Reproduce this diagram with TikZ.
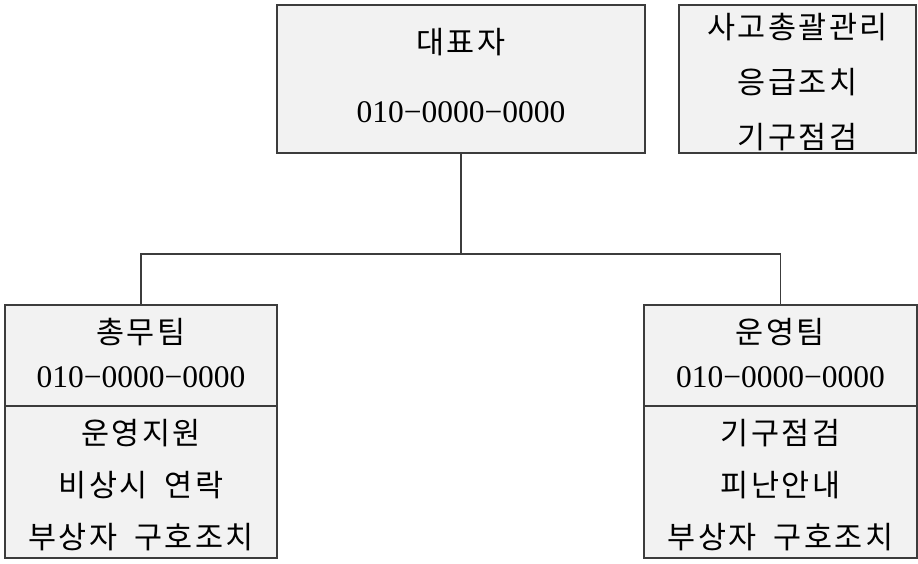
\documentclass[tikz,border=0pt]{standalone}
\usepackage{fontspec}
\setmainfont{Liberation Serif}
\newfontfamily\kr[LetterSpace=8]{Noto Sans CJK KR}
\definecolor{boxfill}{HTML}{F2F2F2}
\definecolor{boxline}{HTML}{3C3C3C}
\newcommand{\wsp}{\kern8pt\ }
\begin{document}
\begin{tikzpicture}[x=1pt,y=-1pt,
  box/.style={draw=boxline, fill=boxfill, line width=1.2pt, rectangle, inner sep=0pt},
  kt/.style={inner sep=0pt, font=\kr\fontsize{30.5}{33}\selectfont},
  nt/.style={inner sep=0pt, font=\fontsize{31.5}{34}\selectfont},
  conn/.style={draw=boxline, line width=1.2pt}]
\useasboundingbox (0,0) rectangle (918,563);
% boxes
\node[box, minimum width=368pt, minimum height=148pt] (top) at (461,79) {};
\node[box, minimum width=237pt, minimum height=148pt] (info) at (797.5,79) {};
\node[box, minimum width=272pt, minimum height=253pt] (lbox) at (141,431.5) {};
\node[box, minimum width=273pt, minimum height=253pt] (rbox) at (780.5,431.5) {};
% dividers
\draw[conn] (5,406) -- (277,406);
\draw[conn] (644,406) -- (917,406);
% connectors
\coordinate (j) at (461,254);
\draw[conn] (top.south) -- (j);
\draw[conn] (lbox.north) |- (j) -| (rbox.north);
% top box text
\node[kt] (t1) at (461,42) {대표자};
\node[nt] (t2) at (461,112) {010−0000−0000};
% info box text
\node[kt] (i1) at (797.5,27) {사고총괄관리};
\node[kt] (i2) at (797.5,82) {응급조치};
\node[kt] (i3) at (797.5,137) {기구점검};
% left box text
\node[kt] (l1) at (141,332) {총무팀};
\node[nt] (l2) at (141,377) {010−0000−0000};
\node[kt] (l3) at (141,433) {운영지원};
\node[kt] (l4) at (141,485) {비상시\wsp 연락};
\node[kt] (l5) at (141,537) {부상자\wsp 구호조치};
% right box text
\node[kt] (r1) at (780.5,332) {운영팀};
\node[nt] (r2) at (780.5,377) {010−0000−0000};
\node[kt] (r3) at (780.5,433) {기구점검};
\node[kt] (r4) at (780.5,485) {피난안내};
\node[kt] (r5) at (780.5,537) {부상자\wsp 구호조치};
\end{tikzpicture}
\end{document}
